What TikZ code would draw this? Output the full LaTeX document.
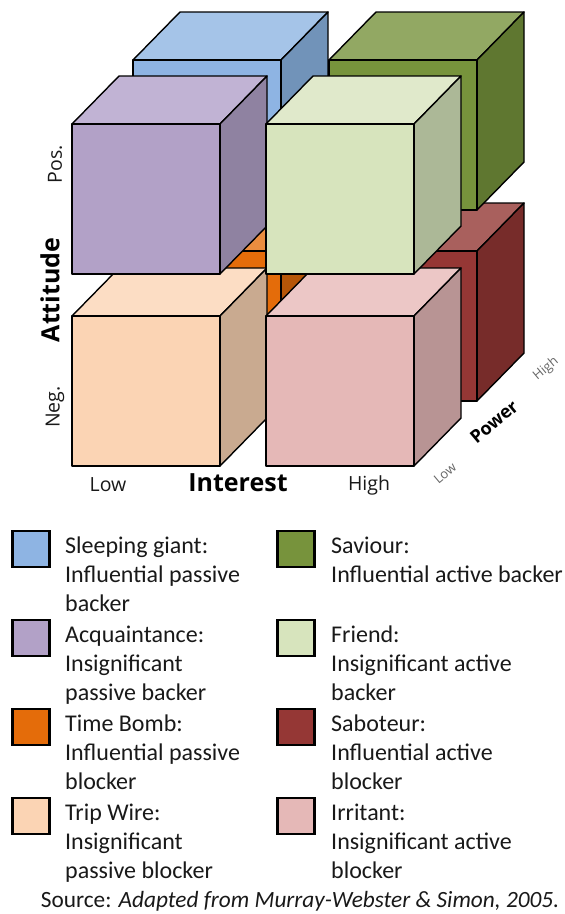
\documentclass[tikz,border=0pt]{standalone}
\usepackage{fontspec}
\setmainfont{Carlito}
\newfontfamily\axisfont{Open Sans}
% face colours: front / top (lighter) / right side (darker)
\definecolor{giantF}{HTML}{8EB4E3}\definecolor{giantT}{HTML}{A5C4E8}\definecolor{giantR}{HTML}{7193B9}
\definecolor{saviF}{HTML}{77933C}\definecolor{saviT}{HTML}{92A863}\definecolor{saviR}{HTML}{5F7730}
\definecolor{acqF}{HTML}{B2A1C7}\definecolor{acqT}{HTML}{C1B3D4}\definecolor{acqR}{HTML}{8F82A1}
\definecolor{friF}{HTML}{D7E4BD}\definecolor{friT}{HTML}{E0E9CB}\definecolor{friR}{HTML}{ACB897}
\definecolor{bombF}{HTML}{E46C0A}\definecolor{bombT}{HTML}{EB8D3F}\definecolor{bombR}{HTML}{B65608}
\definecolor{sabF}{HTML}{953735}\definecolor{sabT}{HTML}{A9605D}\definecolor{sabR}{HTML}{772C2A}
\definecolor{tripF}{HTML}{FBD4B4}\definecolor{tripT}{HTML}{FCDDC4}\definecolor{tripR}{HTML}{C9AA90}
\definecolor{irrF}{HTML}{E5B8B7}\definecolor{irrT}{HTML}{ECC7C6}\definecolor{irrR}{HTML}{B89494}
% one block of the stakeholder cube: #1,#2 top-left of front face; #3 colour prefix
\newcommand\stakecube[3]{%
  \filldraw[face, fill=#3T] (#1,#2) -- ++(47,-48) -- ++(148,0) -- ++(-47,48) -- cycle;
  \filldraw[face, fill=#3R] (#1+148,#2) -- ++(47,-48) -- ++(0,150) -- ++(-47,48) -- cycle;
  \filldraw[face, fill=#3F] (#1,#2) rectangle ++(148,150);
}
\begin{document}
\begin{tikzpicture}[x=1pt,y=-1pt,
  face/.style={draw=black, line width=1.4pt, line join=round},
  swatch/.style={draw=black, line width=2.4pt, minimum width=37pt, minimum height=36pt, inner sep=0pt},
  leg/.style={anchor=base west, inner sep=0pt, font=\fontsize{24}{28}\selectfont, text=black!90},
  axis/.style={inner sep=0pt, font=\axisfont\fontsize{19.5}{23}\selectfont, text=black!90},
  axisb/.style={inner sep=0pt, font=\axisfont\fontsize{25}{29}\selectfont\bfseries},
  pow/.style={inner sep=0pt, rotate=40, font=\axisfont\fontsize{13}{15}\selectfont, text=black!60},
  powb/.style={inner sep=0pt, rotate=40, font=\axisfont\fontsize{18}{22}\selectfont\bfseries}]
\useasboundingbox (0,0) rectangle (565,914);

% back layer (high power): lower row, then upper row
\stakecube{133}{251}{bomb}
\stakecube{329}{251}{sab}
\stakecube{133}{60}{giant}
\stakecube{329}{60}{savi}
% front layer (low power)
\stakecube{72}{316}{trip}
\stakecube{266}{316}{irr}
\stakecube{72}{124}{acq}
\stakecube{266}{124}{fri}

% axes
\node[axis, rotate=90] (pos) at (55,164) {Pos.};
\node[axisb, rotate=90] (att) at (50,290) {Attitude};
\node[axis, rotate=90] (neg) at (55,407) {Neg.};
\node[axis] (ilow) at (108,485) {Low};
\node[axisb] (int) at (238,483) {Interest};
\node[axis] (ihigh) at (369,485) {High};
\node[pow] (plow) at (445,473) {Low};
\node[powb] (pow) at (494,422) {Power};
\node[pow] (phigh) at (546,369) {High};

% legend
\node[swatch, fill=giantF] (s1) at (31,549) {};
\node[swatch, fill=acqF]   (s2) at (31,638) {};
\node[swatch, fill=bombF]  (s3) at (31,727) {};
\node[swatch, fill=tripF]  (s4) at (31,816) {};
\node[swatch, fill=saviF]  (s5) at (296,549) {};
\node[swatch, fill=friF]   (s6) at (296,638) {};
\node[swatch, fill=sabF]   (s7) at (296,727) {};
\node[swatch, fill=irrF]   (s8) at (296,816) {};

\node[leg] (t1a) at (65,553) {Sleeping giant:};
\node[leg] (t1b) at (65,582) {Influential passive};
\node[leg] (t1c) at (65,611) {backer};
\node[leg] (t2a) at (65,642) {Acquaintance:};
\node[leg] (t2b) at (65,671) {Insignificant};
\node[leg] (t2c) at (65,700) {passive backer};
\node[leg] (t3a) at (65,731) {Time Bomb:};
\node[leg] (t3b) at (65,760) {Influential passive};
\node[leg] (t3c) at (65,789) {blocker};
\node[leg] (t4a) at (65,820) {Trip Wire:};
\node[leg] (t4b) at (65,849) {Insignificant};
\node[leg] (t4c) at (65,878) {passive blocker};

\node[leg] (t5a) at (331,553) {Saviour:};
\node[leg] (t5b) at (331,582) {Influential active backer};
\node[leg] (t6a) at (331,642) {Friend:};
\node[leg] (t6b) at (331,671) {Insignificant active};
\node[leg] (t6c) at (331,700) {backer};
\node[leg] (t7a) at (331,731) {Saboteur:};
\node[leg] (t7b) at (331,760) {Influential active};
\node[leg] (t7c) at (331,789) {blocker};
\node[leg] (t8a) at (331,820) {Irritant:};
\node[leg] (t8b) at (331,849) {Insignificant active};
\node[leg] (t8c) at (331,878) {blocker};

\node[leg, anchor=base, font=\fontsize{23.3}{27}\selectfont] (src) at (300,907) {Source: \textit{Adapted from Murray-Webster \& Simon, 2005.}};
\end{tikzpicture}
\end{document}
